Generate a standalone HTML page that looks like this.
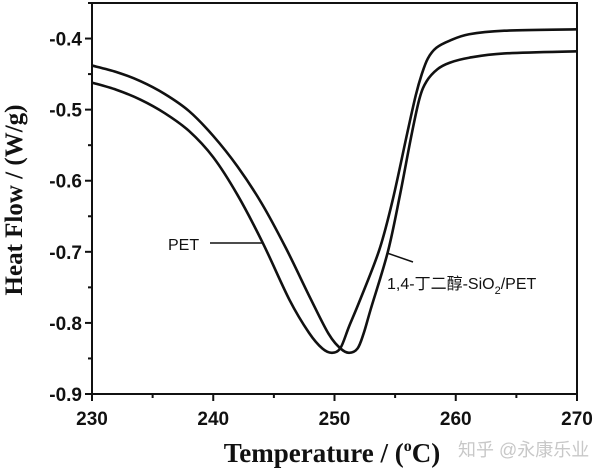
<!DOCTYPE html>
<html><head><meta charset="utf-8"><style>
html,body{margin:0;padding:0;background:#fff;}
svg{display:block;}
.tick{font-family:"Liberation Sans",sans-serif;font-weight:bold;font-size:19px;fill:#111;}
</style></head><body>
<svg id="chart" width="600" height="472" viewBox="0 0 600 472">
<g id="axes"></g>
<g id="series"></g>
<text x="22" y="200" transform="rotate(-90 22 200)" text-anchor="middle" font-family="Liberation Serif,serif" font-weight="bold" font-size="25" fill="#111">Heat Flow / (W/g)</text>
<text x="332" y="462" text-anchor="middle" font-family="Liberation Serif,serif" font-weight="bold" font-size="27" fill="#111">Temperature / (<tspan font-size="16" dy="-11">o</tspan><tspan dy="11">C)</tspan></text>
<text x="458" y="456" font-family="Liberation Sans,Noto Sans CJK SC,sans-serif" font-size="18" fill="#c8c8c8">知乎 @永康乐业</text>
<text x="168" y="250" font-family="Liberation Sans,sans-serif" font-size="16" fill="#111">PET</text>
<line x1="210" y1="243" x2="263" y2="243" stroke="#111" stroke-width="1.5"/>
<text x="387" y="289" font-family="Liberation Sans,Noto Sans CJK SC,sans-serif" font-size="16" fill="#111">1,4-丁二醇-SiO<tspan font-size="11" dy="5">2</tspan><tspan dy="-5">/PET</tspan></text>
<line x1="387" y1="253" x2="413" y2="262" stroke="#111" stroke-width="1.5"/>
</svg>
<script>
const xTicks=[230,240,250,260,270];
const yTicks=[-0.4,-0.5,-0.6,-0.7,-0.8,-0.9];
const yTickLabels=["-0.4","-0.5","-0.6","-0.7","-0.8","-0.9"];
const petT=[230,232,234,236,238,240,242,244.1,246.3,247.9,249,249.8,250.5,251.2,252.1,253.7,254.8,256,256.7,257.2,257.7,258.4,259.5,261.1,264,270];
const petV=[-0.462,-0.472,-0.486,-0.505,-0.53,-0.567,-0.62,-0.688,-0.768,-0.814,-0.836,-0.842,-0.835,-0.805,-0.768,-0.697,-0.627,-0.533,-0.48,-0.45,-0.428,-0.413,-0.403,-0.394,-0.389,-0.387];
const compT=[230,232,234,236,238,240,242,244,246,248,249.5,250.5,251.2,251.9,252.4,253,254.4,255.4,256.3,257,257.6,258.5,259.5,261.1,264,270];
const compV=[-0.438,-0.447,-0.46,-0.478,-0.502,-0.537,-0.58,-0.632,-0.695,-0.765,-0.815,-0.836,-0.842,-0.836,-0.815,-0.78,-0.7,-0.62,-0.54,-0.485,-0.46,-0.443,-0.434,-0.427,-0.421,-0.418];
const X0=92,X1=577,Y0=3,Y1=394;
function sx(t){return X0+(t-230)/40*(X1-X0);}
function sy(v){return Y0+(-0.35-v)/0.55*(Y1-Y0);}
const NS="http://www.w3.org/2000/svg";
const axes=document.getElementById('axes');
function mk(tag,attrs,parent){const e=document.createElementNS(NS,tag);for(const k in attrs)e.setAttribute(k,attrs[k]);parent.appendChild(e);return e;}
const fr=mk('rect',{x:X0,y:Y0,width:X1-X0,height:Y1-Y0,fill:'none',stroke:'#111','stroke-width':2},axes);


xTicks.forEach((t,i)=>{
 const l=mk('line',{x1:sx(t),x2:sx(t),y1:Y1,y2:Y1+7,stroke:'#111','stroke-width':2},axes);
 
 
 if(i<xTicks.length-1){const m=mk('line',{x1:sx(t+5),x2:sx(t+5),y1:Y1,y2:Y1+4,stroke:'#111','stroke-width':2},axes);
 
 }
 const tx=mk('text',{x:sx(t),y:Y1+31,'text-anchor':'middle',class:'tick'},axes);tx.textContent=String(t);
 
 
});
yTicks.forEach((v,i)=>{
 const l=mk('line',{x1:X0-7,x2:X0,y1:sy(v),y2:sy(v),stroke:'#111','stroke-width':2},axes);
 
 
 const m=mk('line',{x1:X0-4,x2:X0,y1:sy(v+0.05),y2:sy(v+0.05),stroke:'#111','stroke-width':2},axes);
 
 
 const tx=mk('text',{x:X0-10,y:sy(v)+7,'text-anchor':'end',class:'tick'},axes);tx.textContent=yTickLabels[i];
 
 
});
function pathFor(T,V){const p=T.map((t,i)=>[sx(t),sy(V[i])]);let d='M'+p[0][0]+','+p[0][1];
 for(let i=0;i<p.length-1;i++){const a=p[i-1]||p[i],b=p[i],c=p[i+1],e=p[i+2]||c;
 d+=' C'+(b[0]+(c[0]-a[0])/6)+','+(b[1]+(c[1]-a[1])/6)+' '+(c[0]-(e[0]-b[0])/6)+','+(c[1]-(e[1]-b[1])/6)+' '+c[0]+','+c[1];}
 return d;}
const ser=document.getElementById('series');
const p1=mk('path',{d:pathFor(petT,petV),fill:'none',stroke:'#111','stroke-width':2.6},ser);


const p2=mk('path',{d:pathFor(compT,compV),fill:'none',stroke:'#111','stroke-width':2.6},ser);


</script>
</body></html>
